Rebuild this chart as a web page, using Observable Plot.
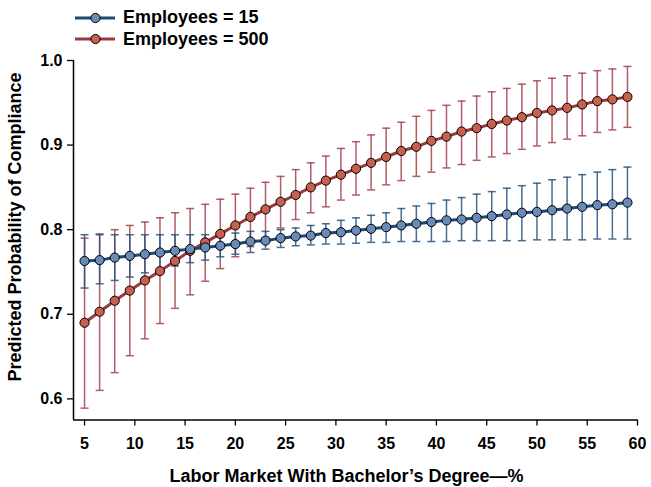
<!DOCTYPE html>
<html>
<head>
<meta charset="utf-8">
<script src="https://cdn.jsdelivr.net/npm/d3@7"></script>
<script src="https://cdn.jsdelivr.net/npm/@observablehq/plot@0.6"></script>
<style>
  html, body { margin: 0; padding: 0; background: #fff; }
  #wrap { position: relative; width: 651px; height: 487px; font-family: "Liberation Sans", Arial, sans-serif; font-weight: bold; color: #000; }
  #wrap svg { display: block; }
  .legend { position: absolute; left: 75px; top: 7px; }
  .legend .row { display: flex; align-items: center; height: 21.5px; font-size: 18px; line-height: 21.5px; white-space: nowrap; }
  .legend .row svg { margin-right: 8px; }
  .xtitle { position: absolute; left: 346.5px; top: 466.5px; transform: translateX(-50%); font-size: 18px; line-height: 18px; white-space: nowrap; }
  .ytitle { position: absolute; left: 15px; top: 226.5px; transform: translate(-50%, -50%) rotate(-90deg); font-size: 18px; line-height: 18px; white-space: nowrap; }
</style>
</head>
<body>
<div id="wrap"></div>
<script>
// ---------------- data ----------------
const pctBachelor = [5, 6.5, 8, 9.5, 11, 12.5, 14, 15.5, 17, 18.5, 20, 21.5, 23, 24.5, 26, 27.5, 29, 30.5, 32, 33.5, 35, 36.5, 38, 39.5, 41, 42.5, 44, 45.5, 47, 48.5, 50, 51.5, 53, 54.5, 56, 57.5, 59];

const emp15Mean = [0.763, 0.764, 0.767, 0.769, 0.771, 0.773, 0.775, 0.777, 0.779, 0.781, 0.783, 0.786, 0.787, 0.790, 0.792, 0.793, 0.796, 0.797, 0.799, 0.801, 0.803, 0.805, 0.807, 0.809, 0.811, 0.812, 0.814, 0.816, 0.818, 0.820, 0.821, 0.823, 0.825, 0.827, 0.829, 0.830, 0.832];
const emp15Hi   = [0.794, 0.794, 0.794, 0.794, 0.794, 0.794, 0.794, 0.794, 0.794, 0.795, 0.796, 0.798, 0.798, 0.800, 0.802, 0.805, 0.807, 0.811, 0.814, 0.817, 0.820, 0.825, 0.828, 0.831, 0.835, 0.838, 0.842, 0.845, 0.849, 0.852, 0.855, 0.859, 0.862, 0.865, 0.868, 0.871, 0.874];
const emp15Lo   = [0.731, 0.736, 0.740, 0.744, 0.749, 0.753, 0.757, 0.761, 0.764, 0.768, 0.771, 0.773, 0.777, 0.779, 0.781, 0.782, 0.783, 0.783, 0.784, 0.785, 0.785, 0.786, 0.786, 0.786, 0.786, 0.787, 0.787, 0.787, 0.787, 0.787, 0.788, 0.788, 0.788, 0.788, 0.789, 0.789, 0.789];

const emp500Mean = [0.690, 0.703, 0.716, 0.728, 0.740, 0.751, 0.763, 0.775, 0.785, 0.795, 0.805, 0.815, 0.824, 0.833, 0.841, 0.850, 0.858, 0.865, 0.872, 0.879, 0.886, 0.893, 0.898, 0.905, 0.910, 0.916, 0.920, 0.925, 0.929, 0.933, 0.938, 0.941, 0.944, 0.948, 0.952, 0.954, 0.957];
const emp500Hi   = [0.790, 0.795, 0.800, 0.805, 0.809, 0.814, 0.820, 0.825, 0.830, 0.836, 0.842, 0.849, 0.856, 0.863, 0.871, 0.879, 0.887, 0.896, 0.904, 0.912, 0.920, 0.927, 0.934, 0.941, 0.947, 0.952, 0.958, 0.963, 0.967, 0.972, 0.976, 0.979, 0.982, 0.985, 0.988, 0.990, 0.993];
const emp500Lo   = [0.589, 0.610, 0.631, 0.651, 0.671, 0.689, 0.707, 0.723, 0.739, 0.754, 0.768, 0.780, 0.791, 0.802, 0.812, 0.820, 0.827, 0.835, 0.841, 0.847, 0.853, 0.858, 0.863, 0.868, 0.873, 0.877, 0.882, 0.886, 0.890, 0.895, 0.899, 0.903, 0.907, 0.911, 0.915, 0.918, 0.921];

const seriesNames = ["Employees = 15", "Employees = 500"];
const xTicks = [5, 10, 15, 20, 25, 30, 35, 40, 45, 50, 55, 60];
const yTicks = [0.6, 0.7, 0.8, 0.9, 1.0];
const xTitle = "Labor Market With Bachelor\u2019s Degree\u2014%";
const yTitle = "Predicted Probability of Compliance";
const xDomain = [3.9, 60];
const yDomain = [0.575, 1.0];

// ---------------- styles ----------------
const styles = [
  { line: "#1b4a72", fill: "#6a8ab8", bar: "#24557f" },
  { line: "#9b383e", fill: "#c8604e", bar: "#a3414a" }
];

const series = [
  pctBachelor.map((x, i) => ({ x, y: emp15Mean[i], lo: emp15Lo[i], hi: emp15Hi[i] })),
  pctBachelor.map((x, i) => ({ x, y: emp500Mean[i], lo: emp500Lo[i], hi: emp500Hi[i] }))
];

const capSymbol = {
  draw(context) {
    context.moveTo(-4, 0);
    context.lineTo(4, 0);
  }
};

function barMarks(data, st) {
  return [
    Plot.ruleX(data, { x: "x", y1: "lo", y2: "hi", stroke: st.bar, strokeWidth: 1.5, strokeOpacity: 0.85 }),
    Plot.dot(data, { x: "x", y: "lo", symbol: capSymbol, stroke: st.bar, strokeWidth: 1.5, strokeOpacity: 0.85, fill: "none" }),
    Plot.dot(data, { x: "x", y: "hi", symbol: capSymbol, stroke: st.bar, strokeWidth: 1.5, strokeOpacity: 0.85, fill: "none" })
  ];
}
function lineMarks(data, st) {
  return [
    Plot.line(data, { x: "x", y: "y", stroke: st.line, strokeWidth: 3 }),
    Plot.dot(data, { x: "x", y: "y", r: 4.6, fill: st.fill, stroke: "#000", strokeWidth: 1 })
  ];
}

const chart = Plot.plot({
  width: 651,
  height: 487,
  marginLeft: 73,
  marginRight: 14,
  marginTop: 60,
  marginBottom: 67.5,
  style: { fontFamily: "'Liberation Sans', Arial, sans-serif", fontWeight: "bold", fontSize: "16px", color: "#000", background: "#fff" },
  x: { domain: xDomain },
  y: { domain: yDomain },
  marks: [
    Plot.ruleX([xDomain[0]], { stroke: "#000", strokeWidth: 1.5 }),
    Plot.ruleY([yDomain[0]], { stroke: "#000", strokeWidth: 1.5 }),
    Plot.axisX({ ticks: xTicks, tickSize: 6, tickPadding: 12, tickFormat: d => String(d), label: null, fontSize: 16, fontWeight: "bold", strokeWidth: 1.3 }),
    Plot.axisY({ ticks: yTicks, tickSize: 6, tickPadding: 5, tickFormat: d => d.toFixed(1), label: null, fontSize: 16, fontWeight: "bold", strokeWidth: 1.3 }),
    ...barMarks(series[1], styles[1]),
    ...barMarks(series[0], styles[0]),
    ...lineMarks(series[1], styles[1]),
    ...lineMarks(series[0], styles[0])
  ]
});

const wrap = document.getElementById("wrap");
wrap.appendChild(chart);

// legend
const legend = document.createElement("div");
legend.className = "legend";
seriesNames.forEach((name, i) => {
  const st = styles[i];
  const row = document.createElement("div");
  row.className = "row";
  row.innerHTML = `<svg width="40" height="14" viewBox="0 0 40 14"><line x1="0" y1="7" x2="40" y2="7" stroke="${st.line}" stroke-width="3"/><circle cx="20.5" cy="7" r="4.6" fill="${st.fill}" stroke="#000" stroke-width="1"/></svg><span>${name}</span>`;
  legend.appendChild(row);
});
wrap.appendChild(legend);

const xt = document.createElement("div");
xt.className = "xtitle";
xt.textContent = xTitle;
wrap.appendChild(xt);

const yt = document.createElement("div");
yt.className = "ytitle";
yt.textContent = yTitle;
wrap.appendChild(yt);
</script>
</body>
</html>
